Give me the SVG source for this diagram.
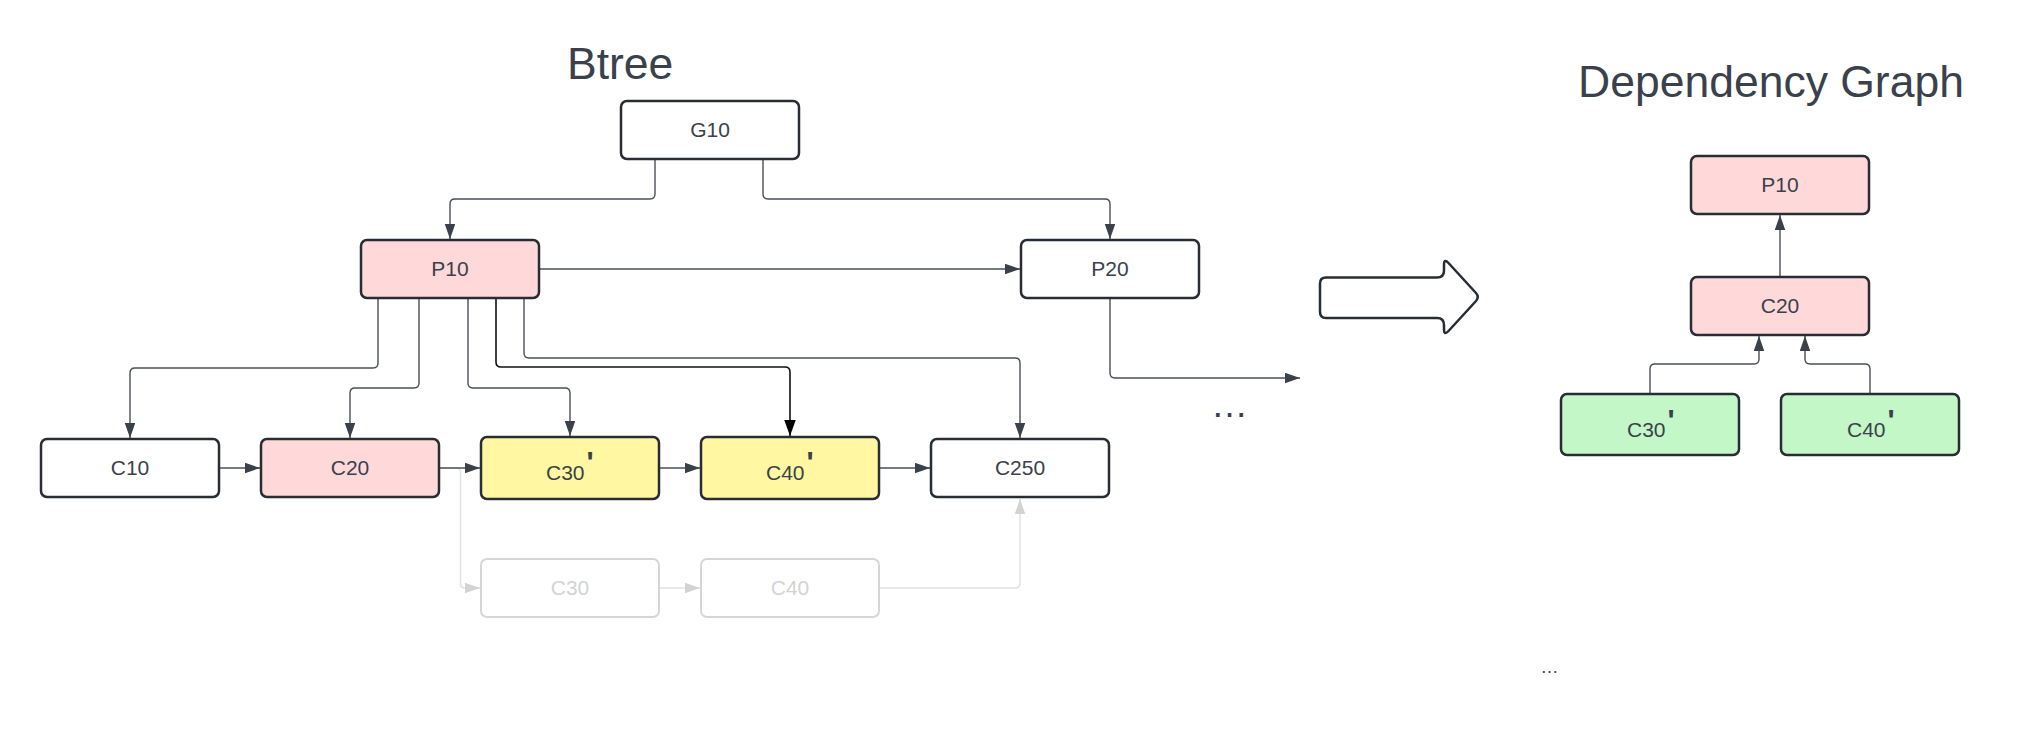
<svg xmlns="http://www.w3.org/2000/svg" width="2040" height="738" viewBox="0 0 2040 738">
<style>
.box{stroke:#282c33;stroke-width:2.5}
.w{fill:#ffffff}
.pk{fill:#ffd9d9}
.yl{fill:#fff7a1}
.gr{fill:#c3f7c8}
.fd{fill:#ffffff;stroke:#d6d6d6;stroke-width:2}
.lbl{font-family:"Liberation Sans",Arial,sans-serif;font-size:21px;fill:#3a414a;text-anchor:middle}
.lbs{font-family:"Liberation Sans",Arial,sans-serif;font-size:21px;fill:#3a414a}
.pr{font-size:30px;font-weight:bold}
.fdt{fill:#d3d3d3}
.title{font-family:"Liberation Sans",Arial,sans-serif;font-size:44.5px;fill:#3a414a}
.c{fill:none;stroke:#4a5059;stroke-width:1.4}
.cb{fill:none;stroke:#111111;stroke-width:1.6}
.cf{fill:none;stroke:#e2e2e2;stroke-width:1.5}
</style>
<defs>
<marker id="ah" markerUnits="userSpaceOnUse" markerWidth="16" markerHeight="11" refX="15" refY="5.25" orient="auto"><path d="M0,0 L15,5.25 L0,10.5 z" fill="#3a414a"/></marker>
<marker id="ahb" markerUnits="userSpaceOnUse" markerWidth="17" markerHeight="12" refX="16" refY="5.75" orient="auto"><path d="M0,0 L16,5.75 L0,11.5 z" fill="#000000"/></marker>
<marker id="ahf" markerUnits="userSpaceOnUse" markerWidth="16" markerHeight="11" refX="15" refY="5.25" orient="auto"><path d="M0,0 L15,5.25 L0,10.5 z" fill="#d3d3d3"/></marker>
</defs>
<rect width="2040" height="738" fill="#ffffff"/>

<text class="title" x="567" y="79">Btree</text>
<text class="title" x="1578" y="97">Dependency Graph</text>

<g id="connectors">
<path class="c" marker-end="url(#ah)" d="M655,160 V194 Q655,199 650,199 H455 Q450,199 450,204 V239"/>
<path class="c" marker-end="url(#ah)" d="M763,160 V194 Q763,199 768,199 H1105 Q1110,199 1110,204 V239"/>
<path class="c" marker-end="url(#ah)" d="M540,269 H1020"/>
<path class="c" marker-end="url(#ah)" d="M378,299 V363 Q378,368 373,368 H135 Q130,368 130,373 V438"/>
<path class="c" marker-end="url(#ah)" d="M419,299 V383 Q419,388 414,388 H355 Q350,388 350,393 V438"/>
<path class="c" marker-end="url(#ah)" d="M468,299 V383 Q468,388 473,388 H565 Q570,388 570,393 V436"/>
<path class="cb" marker-end="url(#ahb)" d="M496,299 V362 Q496,367 501,367 H785 Q790,367 790,372 V436"/>
<path class="c" marker-end="url(#ah)" d="M524,299 V353 Q524,358 529,358 H1015 Q1020,358 1020,363 V438"/>
<path class="c" marker-end="url(#ah)" d="M1110,299 V373 Q1110,378 1115,378 H1300"/>
<path class="cf" marker-end="url(#ahf)" d="M440,468 H456 Q460.5,468 460.5,472.5 V583.5 Q460.5,588 465,588 H480"/>
<path class="cf" marker-end="url(#ahf)" d="M660,588 H700"/>
<path class="cf" marker-end="url(#ahf)" d="M880,588 H1015 Q1020,588 1020,583 V499"/>
<path class="c" marker-end="url(#ah)" d="M220,468 H260"/>
<path class="c" marker-end="url(#ah)" d="M440,468 H480"/>
<path class="c" marker-end="url(#ah)" d="M660,468 H700"/>
<path class="c" marker-end="url(#ah)" d="M880,468 H930"/>
<path class="c" marker-end="url(#ah)" d="M1780,276 V215"/>
<path class="c" marker-end="url(#ah)" d="M1650,393 V369 Q1650,364 1655,364 H1754 Q1759,364 1759,359 V336"/>
<path class="c" marker-end="url(#ah)" d="M1870,393 V369 Q1870,364 1865,364 H1810 Q1805,364 1805,359 V336"/>
</g>

<g id="G10"><rect class="box w" x="621" y="101" width="178" height="58" rx="6"/><text class="lbl" x="710" y="136.5">G10</text></g>
<g id="P10"><rect class="box pk" x="361" y="240" width="178" height="58" rx="6"/><text class="lbl" x="450" y="275.5">P10</text></g>
<g id="P20"><rect class="box w" x="1021" y="240" width="178" height="58" rx="6"/><text class="lbl" x="1110" y="275.5">P20</text></g>
<g id="C10"><rect class="box w" x="41" y="439" width="178" height="58" rx="6"/><text class="lbl" x="130" y="474.5">C10</text></g>
<g id="C20"><rect class="box pk" x="261" y="439" width="178" height="58" rx="6"/><text class="lbl" x="350" y="474.5">C20</text></g>
<g id="C30p"><rect class="box yl" x="481" y="437" width="178" height="62" rx="6"/><text class="lbs" x="546" y="480">C30<tspan class="pr" dx="2" dy="-8">'</tspan></text></g>
<g id="C40p"><rect class="box yl" x="701" y="437" width="178" height="62" rx="6"/><text class="lbs" x="766" y="480">C40<tspan class="pr" dx="2" dy="-8">'</tspan></text></g>
<g id="C250"><rect class="box w" x="931" y="439" width="178" height="58" rx="6"/><text class="lbl" x="1020" y="474.5">C250</text></g>
<g id="C30old"><rect class="fd" x="481" y="559" width="178" height="58" rx="6"/><text class="lbl fdt" x="570" y="594.5">C30</text></g>
<g id="C40old"><rect class="fd" x="701" y="559" width="178" height="58" rx="6"/><text class="lbl fdt" x="790" y="594.5">C40</text></g>

<g id="dots1"><text class="lbs" x="1211" y="417" style="font-size:37px">…</text></g>

<g id="bigarrow"><path d="M1326,277.5 H1437 Q1444,277.5 1444,270.5 V265 Q1444,258 1448.5,263 L1476,293 Q1479.5,297 1476,301 L1448.5,331 Q1444,336 1444,329 V325 Q1444,318 1437,318 H1326 Q1320,318 1320,312 V283.5 Q1320,277.5 1326,277.5 Z" fill="#ffffff" stroke="#282c33" stroke-width="2.5" stroke-linejoin="round"/></g>

<g id="DG_P10"><rect class="box pk" x="1691" y="156" width="178" height="58" rx="6"/><text class="lbl" x="1780" y="191.5">P10</text></g>
<g id="DG_C20"><rect class="box pk" x="1691" y="277" width="178" height="58" rx="6"/><text class="lbl" x="1780" y="312.5">C20</text></g>
<g id="DG_C30p"><rect class="box gr" x="1561" y="394" width="178" height="61" rx="6"/><text class="lbs" x="1627" y="437">C30<tspan class="pr" dx="2" dy="-7.5">'</tspan></text></g>
<g id="DG_C40p"><rect class="box gr" x="1781" y="394" width="178" height="61" rx="6"/><text class="lbs" x="1847" y="437">C40<tspan class="pr" dx="2" dy="-7.5">'</tspan></text></g>

<g id="dots2"><text class="lbs" x="1540.5" y="673" style="font-size:18px">…</text></g>
</svg>
